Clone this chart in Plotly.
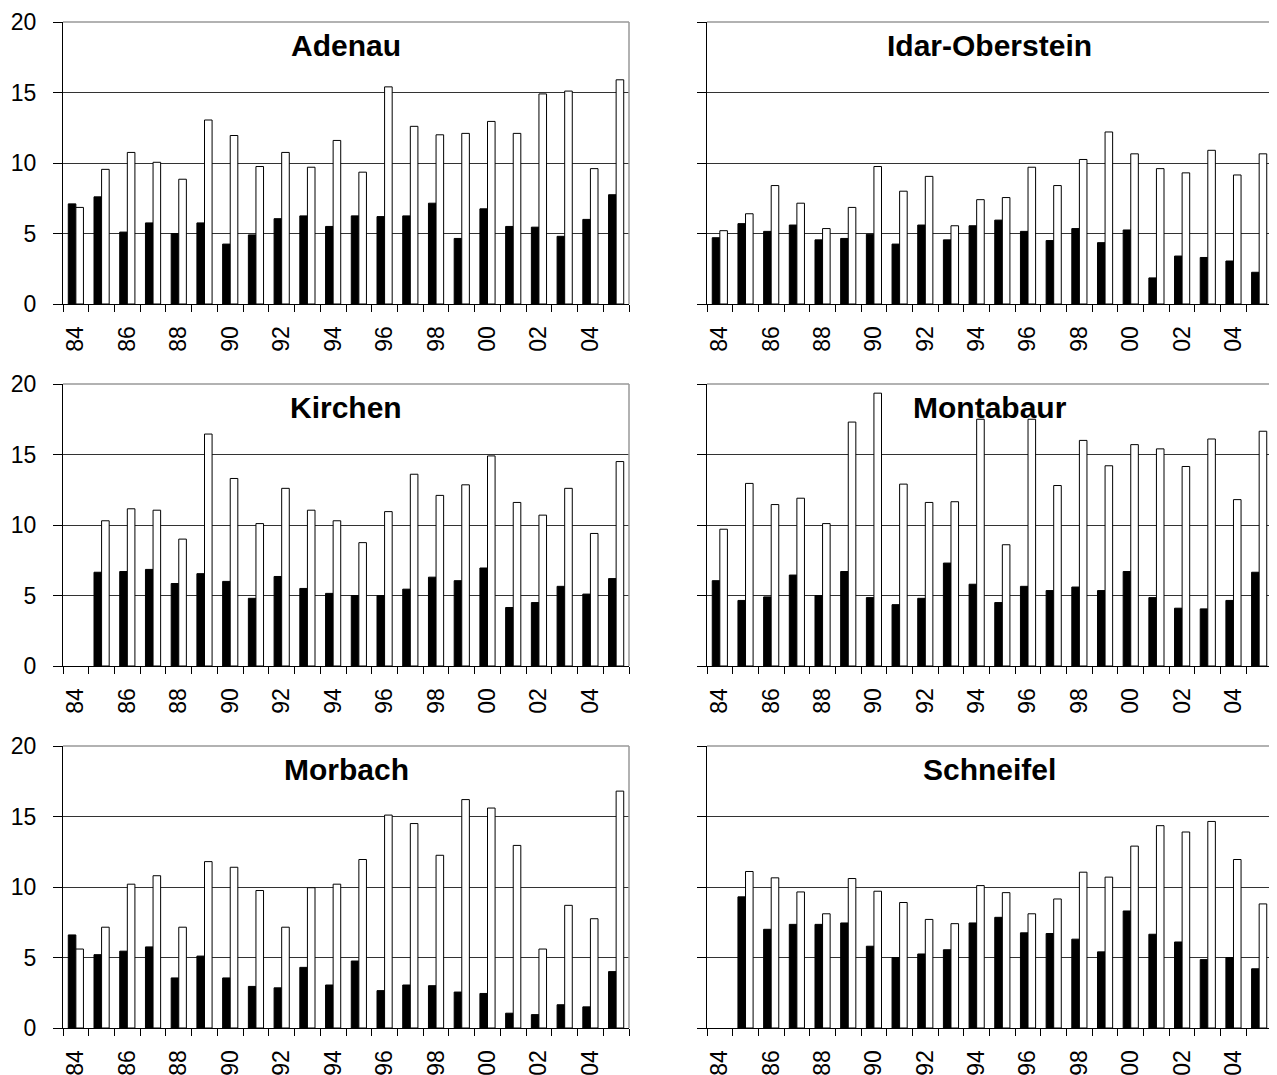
import plotly.graph_objects as go

years = [1984, 1985, 1986, 1987, 1988, 1989, 1990, 1991, 1992, 1993, 1994,
         1995, 1996, 1997, 1998, 1999, 2000, 2001, 2002, 2003, 2004, 2005]
tick_years = [1984, 1986, 1988, 1990, 1992, 1994, 1996, 1998, 2000, 2002, 2004]
tick_labels = ["84", "86", "88", "90", "92", "94", "96", "98", "00", "02", "04"]
y_ticks = [0, 5, 10, 15, 20]

stations = ["Adenau", "Idar-Oberstein", "Kirchen", "Montabaur", "Morbach", "Schneifel"]

adenau_black = [7.1, 7.6, 5.1, 5.75, 5.0, 5.75, 4.25, 4.9, 6.05, 6.25, 5.5, 6.25, 6.2, 6.25, 7.15, 4.65, 6.75, 5.5, 5.45, 4.8, 6.0, 7.75]
adenau_white = [6.85, 9.55, 10.75, 10.05, 8.85, 13.05, 11.95, 9.75, 10.75, 9.7, 11.6, 9.35, 15.4, 12.6, 12.0, 12.1, 12.95, 12.1, 14.9, 15.1, 9.6, 15.9]

idar_black = [4.7, 5.7, 5.15, 5.6, 4.55, 4.65, 4.95, 4.25, 5.6, 4.55, 5.55, 5.95, 5.15, 4.5, 5.35, 4.35, 5.25, 1.85, 3.4, 3.3, 3.05, 2.25]
idar_white = [5.2, 6.4, 8.4, 7.15, 5.35, 6.85, 9.75, 8.0, 9.05, 5.55, 7.4, 7.55, 9.7, 8.4, 10.25, 12.2, 10.65, 9.6, 9.3, 10.9, 9.15, 10.65]

kirchen_black = [None, 6.65, 6.7, 6.85, 5.85, 6.55, 6.0, 4.8, 6.35, 5.5, 5.15, 5.0, 5.0, 5.45, 6.3, 6.05, 6.95, 4.15, 4.5, 5.65, 5.1, 6.2]
kirchen_white = [None, 10.3, 11.15, 11.05, 9.0, 16.45, 13.3, 10.1, 12.6, 11.05, 10.3, 8.75, 10.95, 13.6, 12.1, 12.85, 14.9, 11.6, 10.7, 12.6, 9.4, 14.5]

montabaur_black = [6.05, 4.65, 4.9, 6.45, 5.0, 6.7, 4.85, 4.35, 4.8, 7.3, 5.8, 4.5, 5.65, 5.35, 5.6, 5.35, 6.7, 4.85, 4.1, 4.05, 4.65, 6.65]
montabaur_white = [9.7, 12.95, 11.45, 11.9, 10.1, 17.3, 19.35, 12.9, 11.6, 11.65, 17.5, 8.6, 17.5, 12.8, 16.0, 14.2, 15.7, 15.4, 14.15, 16.1, 11.8, 16.65]

morbach_black = [6.6, 5.2, 5.45, 5.75, 3.55, 5.1, 3.55, 2.95, 2.85, 4.3, 3.05, 4.75, 2.65, 3.05, 3.0, 2.55, 2.45, 1.05, 0.95, 1.65, 1.5, 4.0]
morbach_white = [5.6, 7.15, 10.2, 10.8, 7.15, 11.8, 11.4, 9.75, 7.15, 9.95, 10.2, 11.95, 15.1, 14.5, 12.25, 16.2, 15.6, 12.95, 5.6, 8.7, 7.75, 16.8]

schneifel_black = [None, 9.3, 7.0, 7.35, 7.35, 7.45, 5.8, 5.0, 5.25, 5.55, 7.45, 7.85, 6.75, 6.7, 6.3, 5.4, 8.3, 6.65, 6.1, 4.85, 5.0, 4.2]
schneifel_white = [None, 11.1, 10.65, 9.65, 8.1, 10.6, 9.7, 8.9, 7.7, 7.4, 10.1, 9.6, 8.1, 9.15, 11.05, 10.7, 12.9, 14.35, 13.9, 14.65, 11.95, 8.8]

black_series = [adenau_black, idar_black, kirchen_black, montabaur_black, morbach_black, schneifel_black]
white_series = [adenau_white, idar_white, kirchen_white, montabaur_white, morbach_white, schneifel_white]

# page has an 8px body margin; figure coordinates = page coordinates - 8
OFF = 8
W, H = 1277 - OFF, 1075 - OFF
col_px = [(63, 629), (707, 1272)]
row_px = [(22, 304), (384, 666), (746, 1028)]
FONT = "Liberation Sans, Arial, sans-serif"

fig = go.Figure()
layout = dict(
    width=W, height=H,
    margin=dict(l=0, r=0, t=0, b=0, pad=0),
    paper_bgcolor="white", plot_bgcolor="white",
    showlegend=False, barmode="group", bargap=0.41, bargroupgap=0.0,
    font=dict(family=FONT, color="black"),
)
annotations = []
shapes = []

for i, name in enumerate(stations):
    r, c = divmod(i, 2)
    xa = "x" if i == 0 else f"x{i+1}"
    ya = "y" if i == 0 else f"y{i+1}"
    fig.add_trace(go.Bar(x=years, y=black_series[i], xaxis=xa, yaxis=ya,
                         marker=dict(color="black", line=dict(color="black", width=1))))
    fig.add_trace(go.Bar(x=years, y=white_series[i], xaxis=xa, yaxis=ya,
                         marker=dict(color="white", line=dict(color="black", width=1))))
    x0, x1 = col_px[c]
    y0, y1 = row_px[r]
    xdom = [(x0 - OFF) / W, (x1 - OFF) / W]
    ydom = [1 - (y1 - OFF) / H, 1 - (y0 - OFF) / H]
    key = "" if i == 0 else str(i + 1)
    layout["xaxis" + key] = dict(
        domain=xdom, anchor=ya, range=[1983.5, 2005.5], automargin=False,
        tickmode="array", tickvals=tick_years, ticktext=tick_labels,
        tickangle=-90, ticks="", showgrid=False, zeroline=False,
        showline=True, linecolor="black", linewidth=1,
        tickfont=dict(size=23, family=FONT, color="black"),
        ticklabelstandoff=12,
        minor=dict(tickmode="array", tickvals=[y - 0.5 for y in years] + [2005.5],
                   ticks="outside", ticklen=7, tickcolor="black", tickwidth=1,
                   showgrid=False),
    )
    layout["yaxis" + key] = dict(
        domain=ydom, anchor=xa, range=[0, 20], automargin=False,
        tickmode="array", tickvals=y_ticks,
        ticks="outside", ticklen=9, tickcolor="black", tickwidth=1,
        showgrid=True, gridcolor="#333333", gridwidth=1, zeroline=False,
        showline=True, linecolor="black", linewidth=1,
        showticklabels=(c == 0),
        tickfont=dict(size=23, family=FONT, color="black"),
        ticklabelstandoff=12,
    )
    annotations.append(dict(
        text=f"<b>{name}</b>", xref=f"{xa} domain", yref=f"{ya} domain",
        x=0.5, y=1 - 23 / 282, xanchor="center", yanchor="middle",
        showarrow=False, font=dict(size=30, family=FONT, color="black"),
    ))
    shapes.append(dict(type="line", xref=f"{xa} domain", yref=f"{ya} domain",
                       x0=0, x1=1, y0=1, y1=1, line=dict(color="#999999", width=1.5)))
    shapes.append(dict(type="line", xref=f"{xa} domain", yref=f"{ya} domain",
                       x0=1, x1=1, y0=0, y1=1, line=dict(color="#999999", width=1.5)))

layout["annotations"] = annotations
layout["shapes"] = shapes
fig.update_layout(**layout)
fig.write_html("out.html")
